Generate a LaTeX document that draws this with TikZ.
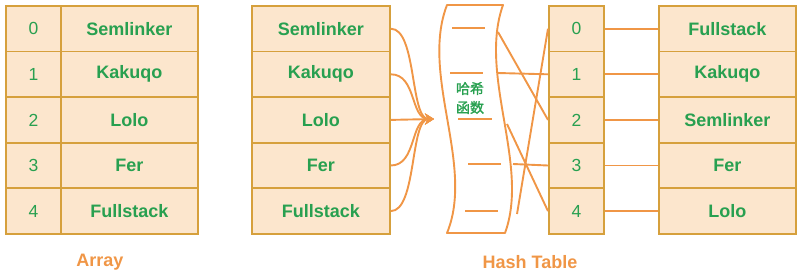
\documentclass[tikz,border=0pt]{standalone}
\usepackage{fontspec}
\setmainfont{Liberation Sans}
\newfontfamily\cjk{Noto Sans CJK SC}[AutoFakeBold=1.5]
\usetikzlibrary{arrows.meta}
\definecolor{cellfill}{RGB}{252,230,205}
\definecolor{cellborder}{RGB}{214,160,60}
\definecolor{lineor}{RGB}{240,150,70}
\definecolor{txtgreen}{RGB}{40,160,80}
\definecolor{lblor}{RGB}{240,150,70}
\begin{document}
\begin{tikzpicture}[x=1pt,y=-1pt,
 cell/.style={draw=cellborder, fill=cellfill, line width=1.8pt, inner sep=0pt, minimum height=45.6pt, anchor=north west, text=txtgreen},
 idx/.style={cell, minimum width=55pt, font=\fontsize{17.5}{20}\selectfont},
 val/.style={cell, minimum width=137pt, font=\bfseries\fontsize{18}{21}\selectfont},
 link/.style={draw=lineor, line width=1.9pt},
 flow/.style={link, -{Stealth[length=9pt,width=11pt]}},
 lbl/.style={text=lblor, font=\bfseries\fontsize{18}{21}\selectfont}
]
\useasboundingbox (0,0) rectangle (800,274);
\foreach \i/\t in {0/Semlinker,1/Kakuqo,2/Lolo,3/Fer,4/Fullstack}{
  \node[idx] (a\i) at (5,{5+45.6*\i}) {\i};
  \node[val] (av\i) at (60,{5+45.6*\i}) {\t};
  \node[val, minimum width=138pt] (m\i) at (251,{5+45.6*\i}) {\t};
}
\foreach \i/\t in {0/Fullstack,1/Kakuqo,2/Semlinker,3/Fer,4/Lolo}{
  \node[idx] (h\i) at (548,{5+45.6*\i}) {\i};
  \node[val] (hv\i) at (658,{5+45.6*\i}) {\t};
  \draw[link] (h\i.east) -- (hv\i.west);
}
\coordinate (tip) at (434,119);
\foreach \i in {0,1,3,4}{
  \draw[flow] (m\i.east) .. controls +(26,0) and +(-24,0) .. (tip);
}
\draw[flow] (m2.east) -- (tip);
% hash function scroll
\draw[link, line join=round] (447,5) -- (503,5) .. controls (478,75) and (530,165) .. (505,233) -- (447,233) .. controls (475,165) and (420,75) .. (447,5) -- cycle;
\draw[link] (452,28) -- (485,28);
\draw[link] (450,73) -- (483,73);
\draw[link] (458,119) -- (492,119);
\draw[link] (468,164) -- (501,164);
\draw[link] (465,211) -- (498,211);
\node[text=txtgreen, font=\cjk\bfseries\fontsize{14}{19}\selectfont, align=center] (hf) at (470,98) {哈希\\函数};
\coordinate (s0) at (498,32);
\coordinate (s1) at (498,73);
\coordinate (s2) at (507,124);
\coordinate (s3) at (513,164);
\coordinate (s4) at (517,214);
\draw[link] (s0) -- (h2.west);
\draw[link] (s1) -- (h1.west);
\draw[link] (s2) -- (h4.west);
\draw[link] (s3) -- (h3.west);
\draw[link] (s4) -- (h0.west);
\node[lbl] (arr) at (100,262) {Array};
\node[lbl] (ht) at (530,262) {Hash Table};
\end{tikzpicture}
\end{document}
